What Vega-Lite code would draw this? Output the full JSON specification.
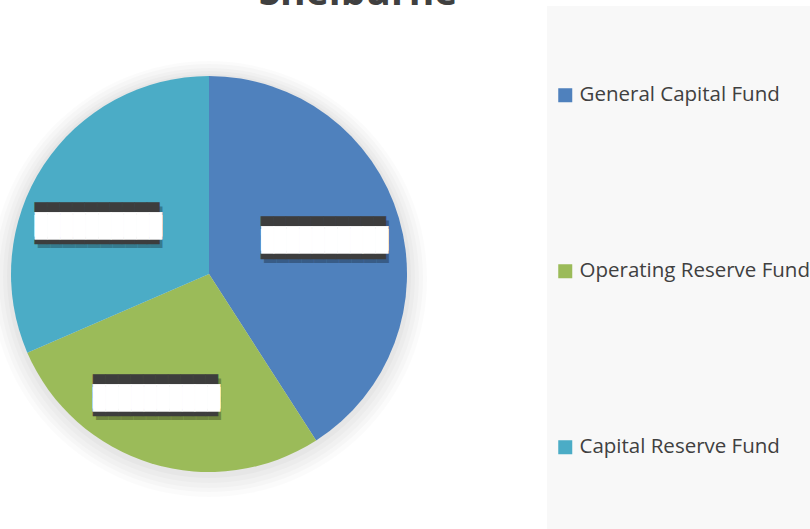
{
  "$schema": "https://vega.github.io/schema/vega-lite/v6.json",
  "width": 418,
  "height": 510,
  "autosize": {"type": "none"},
  "padding": {"left": 0, "top": 19, "right": 392, "bottom": 0},
  "background": "white",
  "title": {
    "text": "Shelburne",
    "font": "Open Sans",
    "fontSize": 39,
    "fontWeight": "bold",
    "color": "#404040",
    "anchor": "middle",
    "frame": "group",
    "baseline": "alphabetic",
    "offset": 0,
    "dx": 149,
    "dy": 37.5
  },
  "datasets": {
    "funds": [
      {"fund": "General Capital Fund", "value": 40.9, "order": 1},
      {"fund": "Operating Reserve Fund", "value": 27.6, "order": 2},
      {"fund": "Capital Reserve Fund", "value": 31.5, "order": 3}
    ],
    "disc": [{"disc": "pie"}]
  },
  "layer": [
    {"data": {"name": "disc"}, "mark": {"type": "arc", "theta": 0, "theta2": 6.2832, "outerRadius": 218, "fill": "#000", "opacity": 0.015, "yOffset": 5}, "encoding": {}},
    {"data": {"name": "disc"}, "mark": {"type": "arc", "theta": 0, "theta2": 6.2832, "outerRadius": 214, "fill": "#000", "opacity": 0.018, "yOffset": 4}, "encoding": {}},
    {"data": {"name": "disc"}, "mark": {"type": "arc", "theta": 0, "theta2": 6.2832, "outerRadius": 210, "fill": "#000", "opacity": 0.018, "yOffset": 4}, "encoding": {}},
    {"data": {"name": "disc"}, "mark": {"type": "arc", "theta": 0, "theta2": 6.2832, "outerRadius": 206, "fill": "#000", "opacity": 0.02, "yOffset": 3}, "encoding": {}},
    {"data": {"name": "disc"}, "mark": {"type": "arc", "theta": 0, "theta2": 6.2832, "outerRadius": 202, "fill": "#000", "opacity": 0.025, "yOffset": 2}, "encoding": {}},
    {
      "data": {"name": "funds"},
      "mark": {"type": "arc", "outerRadius": 198},
      "encoding": {
        "theta": {"field": "value", "type": "quantitative", "stack": true},
        "order": {"field": "order", "type": "quantitative"},
        "color": {
          "field": "fund",
          "type": "nominal",
          "scale": {
            "domain": ["General Capital Fund", "Operating Reserve Fund", "Capital Reserve Fund"],
            "range": ["#4f81bd", "#9bbb59", "#4bacc6"]
          },
          "legend": {
            "orient": "none",
            "legendX": 547,
            "legendY": -13,
            "title": " ",
            "titleFontSize": 1,
            "titlePadding": 70,
            "padding": 8,
            "fillColor": "#f8f8f8",
            "labelFont": "Open Sans",
            "labelFontSize": 20.5,
            "labelColor": "#404040",
            "labelOffset": 4,
            "labelLimit": 400,
            "labelExpr": "[datum.label, '', '', '']",
            "symbolType": "square",
            "symbolSize": 196,
            "symbolStrokeWidth": 0,
            "symbolOpacity": 1,
            "rowPadding": 87
          }
        }
      }
    },
    {
      "data": {"name": "funds"},
      "mark": {"type": "text", "radius": 123, "font": "Liberation Mono", "fontSize": 20.8, "lineHeight": 18.5, "fill": "#000", "baseline": "middle", "align": "center", "dx": -0.5, "dy": -7.3},
      "encoding": {
        "theta": {"field": "value", "type": "quantitative", "stack": true},
        "order": {"field": "order", "type": "quantitative"},
        "text": {"value": ["██████████", "██████████"]},
        "opacity": {"condition": {"test": "datum.fund === 'General Capital Fund'", "value": 0.28}, "value": 0}
      }
    },
    {
      "data": {"name": "funds"},
      "mark": {"type": "text", "radius": 123, "font": "Liberation Mono", "fontSize": 20.8, "lineHeight": 18.5, "fill": "#3d3d3d", "stroke": "#3d3d3d", "strokeWidth": 0.5, "baseline": "middle", "align": "center", "dx": -3.5, "dy": -11.3},
      "encoding": {
        "theta": {"field": "value", "type": "quantitative", "stack": true},
        "order": {"field": "order", "type": "quantitative"},
        "text": {"value": ["██████████", "██████████"]},
        "opacity": {"condition": {"test": "datum.fund === 'General Capital Fund'", "value": 1}, "value": 0}
      }
    },
    {
      "data": {"name": "funds"},
      "mark": {"type": "text", "radius": 123, "font": "Liberation Mono", "fontSize": 21.2, "lineHeight": 3.04, "fill": "#ffffff", "stroke": "#ffffff", "strokeWidth": 0.5, "baseline": "middle", "align": "center", "dx": -2.3, "dy": -1.06},
      "encoding": {
        "theta": {"field": "value", "type": "quantitative", "stack": true},
        "order": {"field": "order", "type": "quantitative"},
        "text": {"value": ["██████████", "██████████"]},
        "opacity": {"condition": {"test": "datum.fund === 'General Capital Fund'", "value": 1}, "value": 0}
      }
    },
    {
      "data": {"name": "funds"},
      "mark": {"type": "text", "radius": 123, "font": "Liberation Mono", "fontSize": 20.8, "lineHeight": 18.5, "fill": "#000", "baseline": "middle", "align": "center", "dx": -14.7, "dy": -1.7},
      "encoding": {
        "theta": {"field": "value", "type": "quantitative", "stack": true},
        "order": {"field": "order", "type": "quantitative"},
        "text": {"value": ["██████████", "██████████"]},
        "opacity": {"condition": {"test": "datum.fund === 'Operating Reserve Fund'", "value": 0.28}, "value": 0}
      }
    },
    {
      "data": {"name": "funds"},
      "mark": {"type": "text", "radius": 123, "font": "Liberation Mono", "fontSize": 20.8, "lineHeight": 18.5, "fill": "#3d3d3d", "stroke": "#3d3d3d", "strokeWidth": 0.5, "baseline": "middle", "align": "center", "dx": -17.7, "dy": -5.7},
      "encoding": {
        "theta": {"field": "value", "type": "quantitative", "stack": true},
        "order": {"field": "order", "type": "quantitative"},
        "text": {"value": ["██████████", "██████████"]},
        "opacity": {"condition": {"test": "datum.fund === 'Operating Reserve Fund'", "value": 1}, "value": 0}
      }
    },
    {
      "data": {"name": "funds"},
      "mark": {"type": "text", "radius": 123, "font": "Liberation Mono", "fontSize": 21.2, "lineHeight": 3.04, "fill": "#ffffff", "stroke": "#ffffff", "strokeWidth": 0.5, "baseline": "middle", "align": "center", "dx": -16.5, "dy": 4.54},
      "encoding": {
        "theta": {"field": "value", "type": "quantitative", "stack": true},
        "order": {"field": "order", "type": "quantitative"},
        "text": {"value": ["██████████", "██████████"]},
        "opacity": {"condition": {"test": "datum.fund === 'Operating Reserve Fund'", "value": 1}, "value": 0}
      }
    },
    {
      "data": {"name": "funds"},
      "mark": {"type": "text", "radius": 123, "font": "Liberation Mono", "fontSize": 20.8, "lineHeight": 18.5, "fill": "#000", "baseline": "middle", "align": "center", "dx": -6, "dy": 11.3},
      "encoding": {
        "theta": {"field": "value", "type": "quantitative", "stack": true},
        "order": {"field": "order", "type": "quantitative"},
        "text": {"value": ["██████████", "██████████"]},
        "opacity": {"condition": {"test": "datum.fund === 'Capital Reserve Fund'", "value": 0.28}, "value": 0}
      }
    },
    {
      "data": {"name": "funds"},
      "mark": {"type": "text", "radius": 123, "font": "Liberation Mono", "fontSize": 20.8, "lineHeight": 18.5, "fill": "#3d3d3d", "stroke": "#3d3d3d", "strokeWidth": 0.5, "baseline": "middle", "align": "center", "dx": -9, "dy": 7.3},
      "encoding": {
        "theta": {"field": "value", "type": "quantitative", "stack": true},
        "order": {"field": "order", "type": "quantitative"},
        "text": {"value": ["██████████", "██████████"]},
        "opacity": {"condition": {"test": "datum.fund === 'Capital Reserve Fund'", "value": 1}, "value": 0}
      }
    },
    {
      "data": {"name": "funds"},
      "mark": {"type": "text", "radius": 123, "font": "Liberation Mono", "fontSize": 21.2, "lineHeight": 3.04, "fill": "#ffffff", "stroke": "#ffffff", "strokeWidth": 0.5, "baseline": "middle", "align": "center", "dx": -7.8, "dy": 17.54},
      "encoding": {
        "theta": {"field": "value", "type": "quantitative", "stack": true},
        "order": {"field": "order", "type": "quantitative"},
        "text": {"value": ["██████████", "██████████"]},
        "opacity": {"condition": {"test": "datum.fund === 'Capital Reserve Fund'", "value": 1}, "value": 0}
      }
    }
  ]
}
